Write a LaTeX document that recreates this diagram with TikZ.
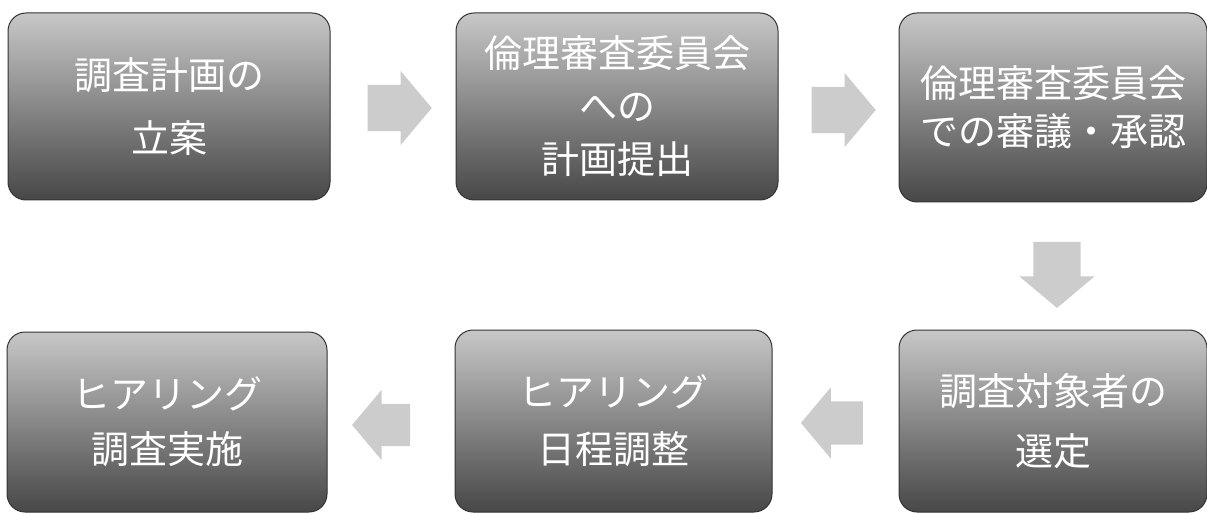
\documentclass[tikz,border=0pt]{standalone}
\usepackage{fontspec}
\newfontfamily\jp{Noto Sans CJK JP}
\usetikzlibrary{shapes.arrows}
\definecolor{topg}{gray}{0.78}
\definecolor{botg}{gray}{0.28}
\definecolor{arrg}{gray}{0.80}
\newcommand\jpsize[1]{\jp\fontsize{38}{#1}\selectfont}
\tikzset{
 box/.style={draw=black!80, line width=1pt, rounded corners=18pt,
   top color=topg, bottom color=botg, text=white, align=center,
   inner sep=0pt},
 blockarrow/.style={single arrow, fill=arrg, draw=none, minimum height=64pt,
   inner xsep=0pt, inner ysep=23pt, single arrow head extend=14pt,
   single arrow tip angle=100}
}
\begin{document}
\begin{tikzpicture}[x=1pt,y=-1pt]
\useasboundingbox (0,0) rectangle (1207,513);
\node[box, minimum width=322pt, minimum height=187pt, font=\jpsize{63}] (b1) at (169,106.5) {調査計画の\\立案};
\node[box, minimum width=322pt, minimum height=187pt, font=\jpsize{53}] (b2) at (617,106.5) {倫理審査委員会\\への\\計画提出};
\node[box, minimum width=308pt, minimum height=189pt, font=\jpsize{48}] (b3) at (1053,107.5) {倫理審査委員会\\での審議・承認};
\node[box, minimum width=308pt, minimum height=182pt, font=\jpsize{60}] (b4) at (1053,421) {調査対象者の\\選定};
\node[box, minimum width=317pt, minimum height=182pt, font=\jpsize{57}] (b5) at (613.5,421) {ヒアリング\\日程調整};
\node[box, minimum width=320pt, minimum height=180pt, font=\jpsize{55}] (b6) at (167,422) {ヒアリング\\調査実施};
\node[blockarrow] (a1) at (390,108) {};
\node[blockarrow] (a2) at (834,110) {};
\node[blockarrow, shape border rotate=270, inner xsep=23.5pt, inner ysep=0pt, minimum height=66pt] (a3) at (1057,265) {};
\node[blockarrow, shape border rotate=180, minimum height=62pt, inner ysep=21.5pt] (a4) at (841,423) {};
\node[blockarrow, shape border rotate=180, minimum height=58pt, inner ysep=21pt] (a5) at (390,425) {};
\end{tikzpicture}
\end{document}
